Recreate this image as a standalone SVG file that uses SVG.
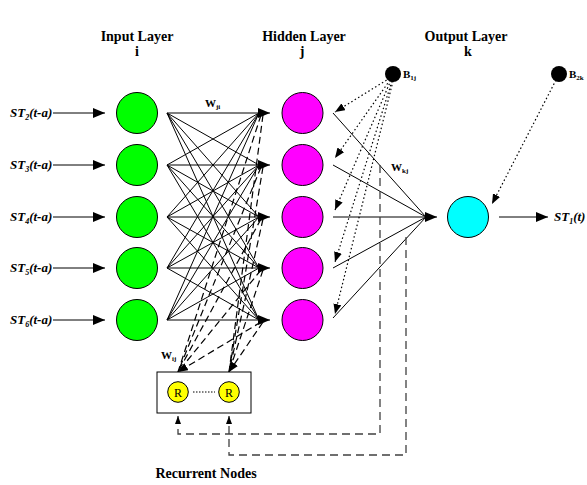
<svg xmlns="http://www.w3.org/2000/svg" width="587" height="485" viewBox="0 0 587 485">
<style>
.hdr{font-family:"Liberation Serif",serif;font-weight:bold;font-size:14px;text-anchor:middle;fill:#000}
.lab{font-family:"Liberation Serif",serif;font-weight:bold;font-style:italic;font-size:13px;fill:#000}
.w{font-family:"Liberation Serif",serif;font-weight:bold;font-size:11px;fill:#000}
.r{font-family:"Liberation Serif",serif;font-size:12px;text-anchor:middle;fill:#000}
.node{stroke:#000;stroke-width:1}
.s{stroke:#000;stroke-width:1;fill:none}
.dot{stroke:#000;stroke-width:1.2;fill:none;stroke-dasharray:1.5 2.5}
.dash{stroke:#000;stroke-width:1.2;fill:none;stroke-dasharray:7 4}
.fb{stroke:#404040;stroke-width:1.3;fill:none;stroke-dasharray:8 5}
</style>
<defs>
<marker id="ah" markerUnits="userSpaceOnUse" markerWidth="12" markerHeight="10" refX="12" refY="5" orient="auto"><path d="M0,0 L12,5 L0,10 z" fill="#000"/></marker>
<marker id="ahs" markerUnits="userSpaceOnUse" markerWidth="10" markerHeight="8" refX="10" refY="4" orient="auto"><path d="M0,0 L10,4 L0,8 z" fill="#000"/></marker>
<marker id="ahf" markerUnits="userSpaceOnUse" markerWidth="8" markerHeight="8" refX="8" refY="4" orient="auto"><path d="M0,1 L8,4 L0,7 z" fill="#000"/></marker>
</defs>

<g id="headers">
<text class="hdr" x="137" y="41">Input Layer</text>
<text class="hdr" x="137" y="56">i</text>
<text class="hdr" x="304" y="41">Hidden Layer</text>
<text class="hdr" x="302" y="56">j</text>
<text class="hdr" x="466" y="41">Output Layer</text>
<text class="hdr" x="468" y="56">k</text>
<text class="hdr" x="206" y="478">Recurrent Nodes</text>
</g>

<g id="connectors">
<!-- input arrows -->
<line class="s" x1="53" y1="113" x2="105" y2="113" marker-end="url(#ah)"/>
<line class="s" x1="53" y1="165" x2="105" y2="165" marker-end="url(#ah)"/>
<line class="s" x1="53" y1="217" x2="105" y2="217" marker-end="url(#ah)"/>
<line class="s" x1="53" y1="268" x2="105" y2="268" marker-end="url(#ah)"/>
<line class="s" x1="53" y1="320" x2="105" y2="320" marker-end="url(#ah)"/>
<!-- input to hidden -->
<g class="s">
<line x1="167" y1="113" x2="270" y2="113" marker-end="url(#ah)"/>
<line x1="167" y1="113" x2="259" y2="165"/>
<line x1="167" y1="113" x2="259" y2="217"/>
<line x1="167" y1="113" x2="259" y2="268"/>
<line x1="167" y1="113" x2="259" y2="320"/>
<line x1="167" y1="165" x2="259" y2="113"/>
<line x1="167" y1="165" x2="270" y2="165" marker-end="url(#ah)"/>
<line x1="167" y1="165" x2="259" y2="217"/>
<line x1="167" y1="165" x2="259" y2="268"/>
<line x1="167" y1="165" x2="259" y2="320"/>
<line x1="167" y1="217" x2="259" y2="113"/>
<line x1="167" y1="217" x2="259" y2="165"/>
<line x1="167" y1="217" x2="270" y2="217" marker-end="url(#ah)"/>
<line x1="167" y1="217" x2="259" y2="268"/>
<line x1="167" y1="217" x2="259" y2="320"/>
<line x1="167" y1="268" x2="259" y2="113"/>
<line x1="167" y1="268" x2="259" y2="165"/>
<line x1="167" y1="268" x2="259" y2="217"/>
<line x1="167" y1="268" x2="270" y2="268" marker-end="url(#ah)"/>
<line x1="167" y1="268" x2="259" y2="320"/>
<line x1="167" y1="320" x2="259" y2="113"/>
<line x1="167" y1="320" x2="259" y2="165"/>
<line x1="167" y1="320" x2="259" y2="217"/>
<line x1="167" y1="320" x2="259" y2="268"/>
<line x1="167" y1="320" x2="270" y2="320" marker-end="url(#ah)"/>
</g>
<!-- hidden to recurrent (dashed) -->
<g class="dash">
<line x1="261" y1="115" x2="178" y2="372"/>
<line x1="261" y1="167" x2="178" y2="372"/>
<line x1="261" y1="219" x2="178" y2="372"/>
<line x1="261" y1="270" x2="178" y2="372"/>
<line x1="261" y1="322" x2="178" y2="372" marker-end="url(#ahs)"/>
<line x1="263" y1="115" x2="229" y2="372"/>
<line x1="263" y1="167" x2="229" y2="372"/>
<line x1="263" y1="219" x2="229" y2="372"/>
<line x1="263" y1="270" x2="229" y2="372"/>
<line x1="263" y1="322" x2="229" y2="372" marker-end="url(#ahs)"/>
</g>
<!-- hidden to output -->
<g class="s">
<line x1="333" y1="113" x2="426" y2="217"/>
<line x1="333" y1="165" x2="426" y2="217"/>
<line x1="333" y1="217" x2="437" y2="217" marker-end="url(#ah)"/>
<line x1="333" y1="268" x2="426" y2="217"/>
<line x1="333" y1="318" x2="426" y2="217"/>
</g>
<!-- output arrow -->
<line class="s" x1="499" y1="217" x2="548" y2="217" marker-end="url(#ah)"/>
<!-- bias dotted -->
<g class="dot">
<line x1="390" y1="78" x2="335" y2="112" marker-end="url(#ahs)"/>
<line x1="390" y1="80" x2="335" y2="158" marker-end="url(#ahs)"/>
<line x1="391" y1="80" x2="335" y2="210" marker-end="url(#ahs)"/>
<line x1="392" y1="81" x2="335" y2="262" marker-end="url(#ahs)"/>
<line x1="393" y1="81" x2="335" y2="314" marker-end="url(#ahs)"/>
<line x1="556" y1="80" x2="492" y2="204" marker-end="url(#ahs)"/>
</g>
<!-- feedback dashed -->
<path class="fb" d="M380,165 V434 H178 V416" marker-end="url(#ahf)"/>
<path class="fb" d="M406,237 V455 H229 V416" marker-end="url(#ahf)"/>
</g>

<g id="input-nodes">
<circle class="node" cx="137" cy="113" r="20.5" fill="#00ff00"/>
<circle class="node" cx="137" cy="165" r="20.5" fill="#00ff00"/>
<circle class="node" cx="137" cy="217" r="20.5" fill="#00ff00"/>
<circle class="node" cx="137" cy="268" r="20.5" fill="#00ff00"/>
<circle class="node" cx="137" cy="320" r="20.5" fill="#00ff00"/>
</g>
<g id="hidden-nodes">
<circle class="node" cx="302.5" cy="113" r="20.5" fill="#ff00ff"/>
<circle class="node" cx="302.5" cy="165" r="20.5" fill="#ff00ff"/>
<circle class="node" cx="302.5" cy="217" r="20.5" fill="#ff00ff"/>
<circle class="node" cx="302.5" cy="268" r="20.5" fill="#ff00ff"/>
<circle class="node" cx="302.5" cy="320" r="20.5" fill="#ff00ff"/>
</g>
<g id="output-node">
<circle class="node" cx="468" cy="217" r="20.5" fill="#00ffff"/>
</g>
<g id="bias-1j">
<circle cx="393" cy="74" r="8" fill="#000"/>
<text class="w" x="403" y="78">B<tspan font-size="7" dy="2">1j</tspan></text>
</g>
<g id="bias-2k">
<circle cx="559" cy="74" r="8" fill="#000"/>
<text class="w" x="569" y="78">B<tspan font-size="7" dy="2">2k</tspan></text>
</g>
<g id="recurrent">
<rect x="157" y="372" width="94" height="41" fill="#fff" stroke="#000" stroke-width="1"/>
<line x1="193" y1="392" x2="215" y2="392" stroke="#000" stroke-width="1" stroke-dasharray="1.5 1.5"/>
<circle class="node" cx="178" cy="392" r="10.3" fill="#ffff00"/>
<circle class="node" cx="229" cy="392" r="10.3" fill="#ffff00"/>
<text class="r" x="178" y="396.5">R</text>
<text class="r" x="229" y="396.5">R</text>
</g>

<g id="labels">
<text class="lab" x="10" y="117">ST<tspan font-size="8" dy="3">2</tspan><tspan dy="-3">(t-a)</tspan></text>
<text class="lab" x="10" y="169">ST<tspan font-size="8" dy="3">3</tspan><tspan dy="-3">(t-a)</tspan></text>
<text class="lab" x="10" y="221">ST<tspan font-size="8" dy="3">4</tspan><tspan dy="-3">(t-a)</tspan></text>
<text class="lab" x="10" y="272">ST<tspan font-size="8" dy="3">5</tspan><tspan dy="-3">(t-a)</tspan></text>
<text class="lab" x="10" y="324">ST<tspan font-size="8" dy="3">6</tspan><tspan dy="-3">(t-a)</tspan></text>
<text class="lab" x="554" y="221">ST<tspan font-size="8" dy="3">1</tspan><tspan dy="-3">(t)</tspan></text>
<text class="w" x="205" y="107">W<tspan font-size="7" dy="2">ji</tspan></text>
<text class="w" x="391" y="171">W<tspan font-size="7" dy="2">kj</tspan></text>
<text class="w" x="161" y="359">W<tspan font-size="7" dy="2">ij</tspan></text>
</g>
</svg>
